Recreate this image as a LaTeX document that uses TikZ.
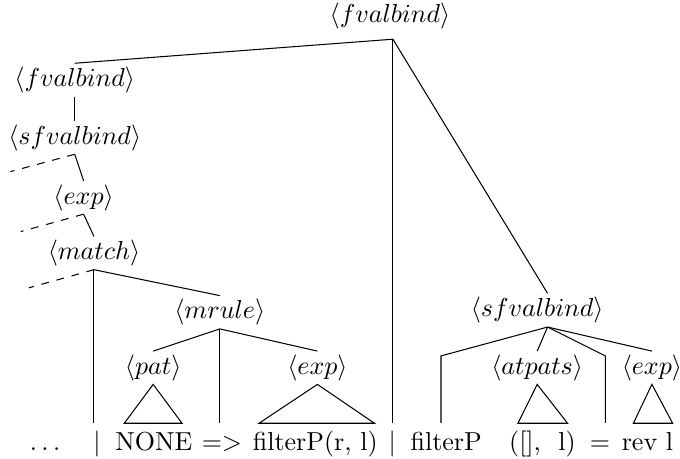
\documentclass[tikz,border=0pt]{standalone}
\usetikzlibrary{calc}
\newcommand{\nterm}[1]{$\langle #1\rangle$}

\begin{document}
\begin{tikzpicture}[
        nt/.style={inner sep=1.2pt},
        word/.style={anchor=base, inner sep=3pt, text height=7.5pt, text depth=2.5pt},
        branch/.style={line width=0.4pt},
        elided/.style={branch, dashed},
        leafs/.style={branch, line join=miter}
    ]
        \useasboundingbox (0,0) rectangle (9.19,6.19);

        % Nonterminals of the parse tree
        \node[nt] (root) at (5.27,5.97) {\nterm{fvalbind}};
        \node[nt] (fvb) at (1.01,5.11) {\nterm{fvalbind}};
        \node[nt] (sfvb) at (1.01,4.33) {\nterm{sfvalbind}};
        \node[nt] (expA) at (1.13,3.52) {\nterm{exp}};
        \node[nt] (match) at (1.27,2.77) {\nterm{match}};
        \node[nt] (mrule) at (2.97,1.97) {\nterm{mrule}};
        \node[nt] (pat) at (2.07,1.22) {\nterm{pat}};
        \node[nt] (expB) at (4.29,1.22) {\nterm{exp}};
        \node[nt] (sfvb2) at (7.26,2.00) {\nterm{sfvalbind}};
        \node[nt] (atpats) at (7.26,1.22) {\nterm{atpats}};
        \node[nt] (expC) at (8.81,1.22) {\nterm{exp}};

        % Terminal string along the bottom
        \node[word] (dots) at (0.61,0.10) {$\ldots$};
        \node[word] (bar1) at (1.31,0.10) {$|$};
        \node[word] (none) at (2.08,0.10) {NONE};
        \node[word] (arr) at (3.00,0.10) {$=>$};
        \node[word] (call) at (4.26,0.10) {filterP(r, l)};
        \node[word] (bar2) at (5.30,0.10) {$|$};
        \node[word] (fname) at (6.03,0.10) {filterP};
        \node[word] (args) at (7.33,0.10) {([],~~l)};
        \node[word] (eq) at (8.11,0.10) {=};
        \node[word] (body) at (8.75,0.10) {rev l};

        % Branch points and cut-off ends
        \coordinate (root-a) at (5.31,5.66);
        \coordinate (sfvb2-a) at (7.40,1.77);
        \coordinate (fname-k) at (5.96,1.38);
        \coordinate (eq-k) at (8.18,1.38);
        \coordinate (cut1) at (0.14,3.87);
        \coordinate (cut2) at (0.28,3.06);
        \coordinate (cut3) at (0.39,2.30);

        % Edges of the tree
        \draw[branch] (root-a) -- (fvb.north);
        \draw[branch] (root-a) -- (root-a |- bar2.north);
        \draw[branch] (root-a) -- (sfvb2-a |- sfvb2.north);
        \draw[branch] (fvb.south) -- (sfvb.north);
        \draw[branch] (sfvb.south) -- (expA.north);
        \draw[branch] (expA.south) -- (match.north);
        \draw[branch] (match.south) -- (match.south |- bar1.north);
        \draw[branch] (match.south) -- (mrule.north);
        \draw[branch] (mrule.south) -- (pat.north);
        \draw[branch] (mrule.south) -- (mrule.south |- arr.north);
        \draw[branch] (mrule.south) -- (expB.north);
        \draw[branch] (sfvb2-a) -- (fname-k) -- (fname-k |- fname.north);
        \draw[branch] (sfvb2-a) -- (atpats.north);
        \draw[branch] (sfvb2-a) -- (eq-k) -- (eq-k |- eq.north);
        \draw[branch] (sfvb2-a) -- (expC.north);

        % Siblings left out of the drawing
        \draw[elided] (sfvb.south) -- (cut1);
        \draw[elided] (expA.south) -- (cut2);
        \draw[elided] (match.south) -- (cut3);

        % Collapsed subtrees
        \draw[leafs] (pat.south) -- (1.68,0.47) -- (2.46,0.47) -- cycle;
        \draw[leafs] (expB.south) -- (3.50,0.47) -- (5.06,0.47) -- cycle;
        \draw[leafs] (atpats.south) -- (7.00,0.47) -- (7.67,0.47) -- cycle;
        \draw[leafs] (expC.south) -- (8.56,0.47) -- (9.09,0.47) -- cycle;
    \end{tikzpicture}
\end{document}
